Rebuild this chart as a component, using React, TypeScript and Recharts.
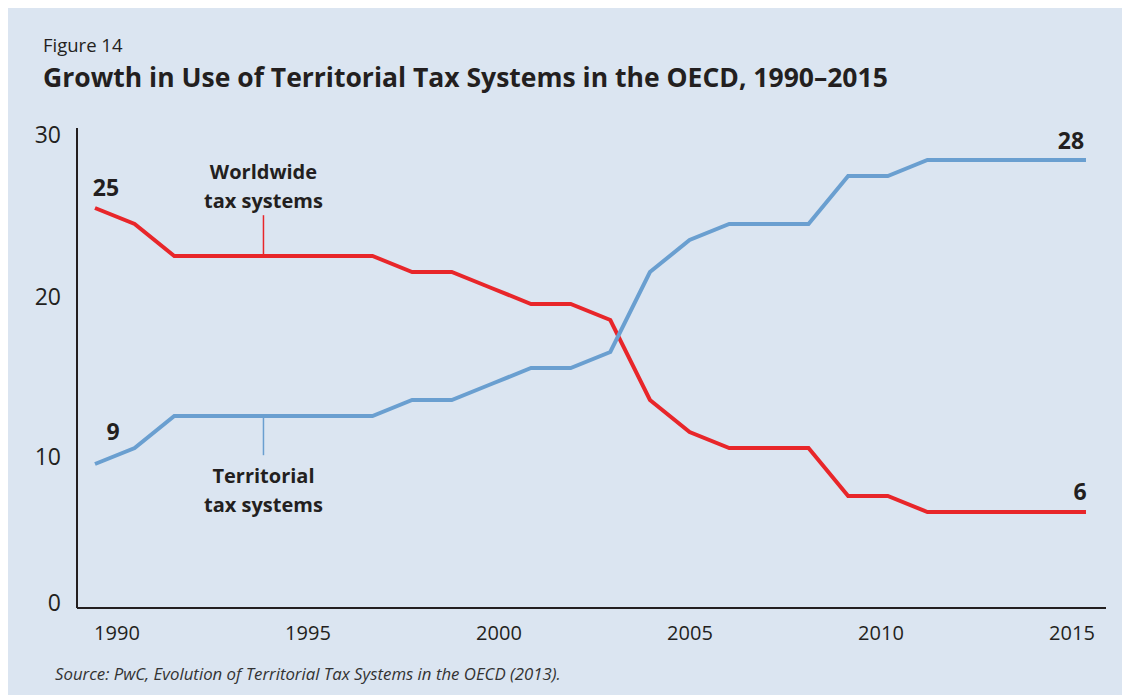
import { Line, LineChart, ReferenceLine, XAxis, YAxis } from "recharts";

// Values (count of OECD countries)
const years = [
  1990, 1991, 1992, 1993, 1994, 1995, 1996, 1997, 1998, 1999, 2000, 2001, 2002,
  2003, 2004, 2005, 2006, 2007, 2008, 2009, 2010, 2011, 2012, 2013, 2014, 2015,
];
const worldwide = [25, 24, 22, 22, 22, 22, 22, 22, 21, 21, 20, 19, 19, 18, 13, 11, 10, 10, 10, 7, 7, 6, 6, 6, 6, 6];
const territorial = [9, 10, 12, 12, 12, 12, 12, 12, 13, 13, 14, 15, 15, 16, 21, 23, 24, 24, 24, 27, 27, 28, 28, 28, 28, 28];
const xTicks = [1990, 1995, 2000, 2005, 2010, 2015];
const yTicks = [0, 10, 20, 30];

const RED = "#e8262a";
const BLUE = "#6a9fd0";
const INK = "#231f20";
const BG = "#dbe5f1";
const FONT = "'Open Sans', 'Noto Sans', sans-serif";

const data = years.map((year, i) => ({
  year,
  worldwide: worldwide[i],
  territorial: territorial[i],
}));

// the original's y labels sit a bit off their gridline positions
const yLabelShift: Record<number, number> = { 0: -5, 10: 9, 20: 9, 30: 7 };

const YTick = ({ x, y, payload }: any) => (
  <text
    x={x}
    y={y + (yLabelShift[payload.value] ?? 0)}
    dy="0.35em"
    textAnchor="end"
    fill={INK}
    fontFamily={FONT}
    fontSize={23}
  >
    {payload.value}
  </text>
);

const XTick = ({ x, y, payload }: any) => (
  <text
    x={x + 22 - (payload.value - 1990) * 1.44}
    y={y + 25}
    dy="0.35em"
    textAnchor="middle"
    fill={INK}
    fontFamily={FONT}
    fontSize={20}
  >
    {payload.value}
  </text>
);

// end value labels: [dx, dy] for first and last point
const makeEndLabel =
  (first: [number, number], last: [number, number]) =>
  ({ x, y, index, value }: any) => {
    if (index !== 0 && index !== years.length - 1) return null;
    const [dx, dy] = index === 0 ? first : last;
    return (
      <text
        x={x + dx}
        y={y + dy}
        dy="0.35em"
        textAnchor="middle"
        fill={INK}
        fontFamily={FONT}
        fontWeight={700}
        fontSize={23}
      >
        {value}
      </text>
    );
  };

const annotation =
  (lines: string[], above: boolean) =>
  ({ viewBox }: any) => {
    const cx = viewBox.x;
    const base = above ? viewBox.y - 43 : viewBox.y + viewBox.height + 21;
    return (
      <g>
        {lines.map((t, i) => (
          <text
            key={t}
            x={cx}
            y={base + i * 29}
            dy="0.35em"
            textAnchor="middle"
            fill={INK}
            fontFamily={FONT}
            fontWeight={700}
            fontSize={20}
          >
            {t}
          </text>
        ))}
      </g>
    );
  };

export default function App() {
  return (
    <div style={{ position: "relative", width: 1122, height: 687, background: BG, fontFamily: FONT, color: INK }}>
      <div style={{ position: "absolute", left: 35, top: 28, fontSize: 18.5, lineHeight: 1 }}>Figure 14</div>
      <div style={{ position: "absolute", left: 35, top: 56, fontSize: 26.5, lineHeight: 1, fontWeight: 700 }}>
        Growth in Use of Territorial Tax Systems in the OECD, 1990–2015
      </div>
      <div style={{ position: "absolute", left: 47, top: 658, fontSize: 16.8, lineHeight: 1, fontStyle: "italic", color: "#333" }}>
        Source: PwC, Evolution of Territorial Tax Systems in the OECD (2013).
      </div>
      <div style={{ position: "absolute", left: 0, top: 0 }}>
        <LineChart width={1122} height={687} data={data} margin={{ top: 120, right: 24, left: 9, bottom: 47 }}>
          <XAxis
            dataKey="year"
            type="number"
            domain={[1989.546, 2015.505]}
            ticks={xTicks}
            axisLine={{ stroke: INK, strokeWidth: 2 }}
            tickLine={false}
            tickSize={0}
            tickMargin={0}
            height={40}
            tick={<XTick />}
          />
          <YAxis
            domain={[0, 30]}
            ticks={yTicks}
            axisLine={{ stroke: INK, strokeWidth: 2 }}
            tickLine={false}
            tickSize={0}
            tickMargin={16}
            width={60}
            tick={<YTick />}
          />
          <ReferenceLine
            segment={[
              { x: 1994.25, y: 22 },
              { x: 1994.25, y: 24.55 },
            ]}
            stroke={RED}
            strokeWidth={1.5}
            label={{ content: annotation(["Worldwide", "tax systems"], true) }}
          />
          <ReferenceLine
            segment={[
              { x: 1994.25, y: 9.55 },
              { x: 1994.25, y: 12 },
            ]}
            stroke={BLUE}
            strokeWidth={1.5}
            label={{ content: annotation(["Territorial", "tax systems"], false) }}
          />
          <Line
            dataKey="worldwide"
            stroke={RED}
            strokeWidth={4}
            dot={false}
            isAnimationActive={false}
            label={makeEndLabel([11, -20], [-6, -20])}
          />
          <Line
            dataKey="territorial"
            stroke={BLUE}
            strokeWidth={4}
            dot={false}
            isAnimationActive={false}
            label={makeEndLabel([18, -32], [-15, -19])}
          />
        </LineChart>
      </div>
    </div>
  );
}
